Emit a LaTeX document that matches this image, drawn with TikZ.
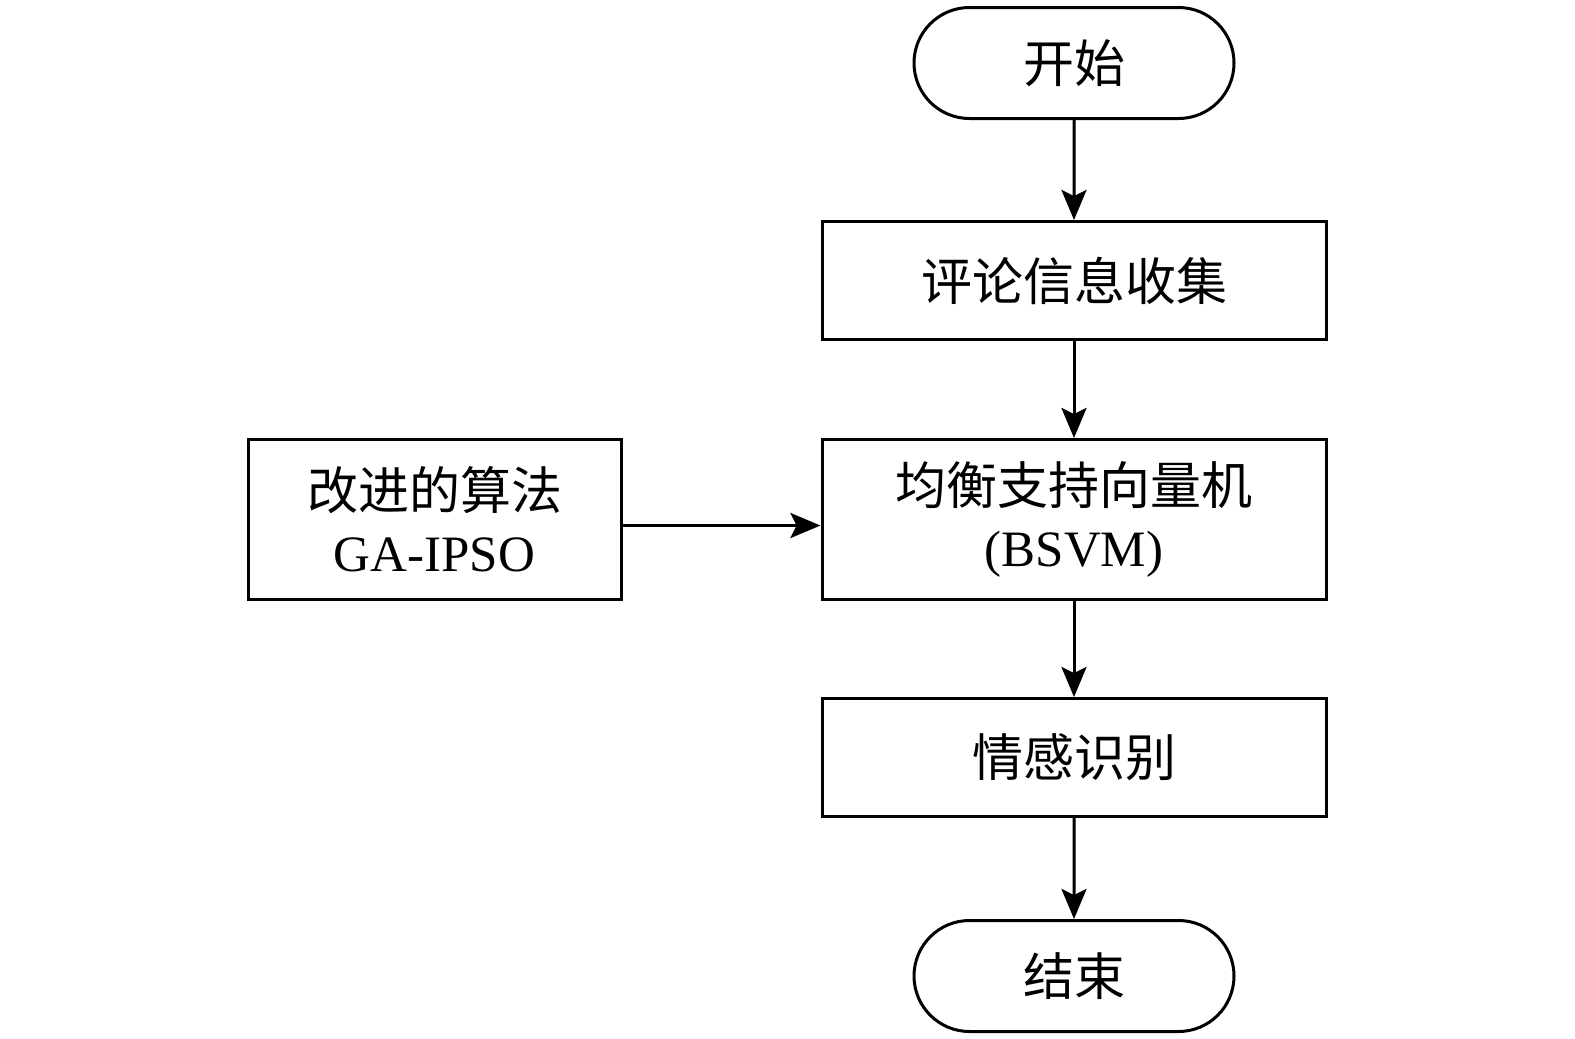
\documentclass[tikz,border=0pt]{standalone}
\usepackage{fontspec}
\setmainfont{Liberation Serif}
\newfontfamily\cjk{Noto Sans CJK SC}
\usetikzlibrary{arrows.meta,positioning,shapes.misc}
\tikzset{
  block/.style={
    rectangle,
    draw=black,
    line width=1.5pt,
    align=center,
    inner sep=0pt,
    minimum width=252pt,
    minimum height=59pt,
    font=\fontsize{25.5}{31}\selectfont
  },
  tallblock/.style={
    block,
    minimum height=80pt
  },
  sideblock/.style={
    tallblock,
    minimum width=186.5pt
  },
  terminal/.style={
    rounded rectangle,
    draw=black,
    line width=1.5pt,
    inner sep=0pt,
    minimum width=160pt,
    minimum height=55.5pt,
    font=\fontsize{25.5}{31}\selectfont
  },
  arrow/.style={
    -{Stealth[length=15pt,width=12.5pt,inset=3pt]},
    line width=1.5pt,
    draw=black
  }
}
\begin{document}
\begin{tikzpicture}[node distance=50pt and 99pt]
  \useasboundingbox (0,0) rectangle (787.5pt,-519.5pt);
  \node[terminal] (start) at (537pt,-31.5pt) {\cjk 开始};
  \node[block, below=50pt of start] (collect) {\cjk 评论信息收集};
  \node[tallblock, below=48.5pt of collect] (bsvm) {\cjk 均衡支持向量机\\(BSVM)};
  \node[sideblock, left=of bsvm] (algo) {\cjk 改进的算法\\GA-IPSO};
  \node[block, below=48pt of bsvm] (emotion) {\cjk 情感识别};
  \node[terminal, below=50.5pt of emotion] (finish) {\cjk 结束};

  \draw[arrow] (start) -- (collect);
  \draw[arrow] (collect) -- (bsvm);
  \draw[arrow] ([yshift=-3pt]algo.east) -- ([yshift=-3pt]bsvm.west);
  \draw[arrow] (bsvm) -- (emotion);
  \draw[arrow] (emotion) -- (finish);
\end{tikzpicture}
\end{document}
